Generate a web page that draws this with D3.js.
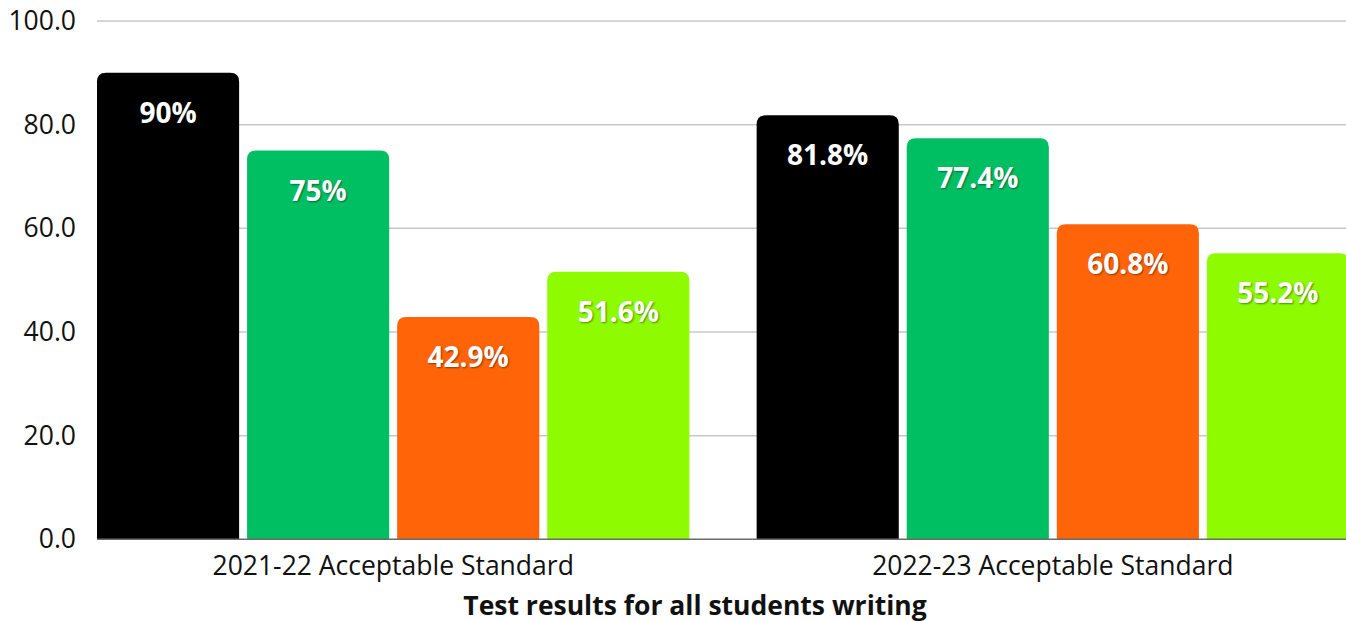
<!DOCTYPE html>
<html>
<head>
<meta charset="utf-8">
<script src="https://cdn.jsdelivr.net/npm/d3@7"></script>
<style>
  html, body { margin: 0; padding: 0; background: #fff; }
  svg { display: block; font-family: "Open Sans", "Noto Sans", sans-serif; }
  .bar-label { text-shadow: 1px 1px 2px rgba(0,0,0,0.45); }
</style>
</head>
<body>
<svg id="chart" width="1346" height="621"></svg>
<script>
// Writing test results, share of students at the acceptable standard
const groups = ["2021-22 Acceptable Standard", "2022-23 Acceptable Standard"];
const series = ["s1", "s2", "s3", "s4"];
const values2122 = [90, 75, 42.9, 51.6];
const values2223 = [81.8, 77.4, 60.8, 55.2];
const valueLabels2122 = ["90%", "75%", "42.9%", "51.6%"];
const valueLabels2223 = ["81.8%", "77.4%", "60.8%", "55.2%"];
const yTicks = [0, 20, 40, 60, 80, 100];
const colors = ["#000000", "#00bf63", "#ff6508", "#8ffb00"];
const xTitle = "Test results for all students writing";

const rows = [
  { group: groups[0], values: values2122, labels: valueLabels2122 },
  { group: groups[1], values: values2223, labels: valueLabels2223 }
];

const svg = d3.select("#chart");
const plotLeft = 97, plotRight = 1349, plotTop = 21, plotBottom = 539.3;
const axisFontSize = 26.5;

const y = d3.scaleLinear().domain([0, 100]).range([plotBottom, plotTop]);
const x0 = d3.scaleBand().domain(groups).range([plotLeft, plotRight]).paddingInner(0.102).paddingOuter(0);
const x1 = d3.scaleBand().domain(series).range([0, x0.bandwidth()]).paddingInner(0.053).paddingOuter(0);
const color = d3.scaleOrdinal().domain(series).range(colors);

// Horizontal gridlines
svg.append("g")
  .selectAll("line")
  .data(yTicks.filter(d => d > 0))
  .join("line")
  .attr("x1", plotLeft).attr("x2", 1346)
  .attr("y1", d => y(d)).attr("y2", d => y(d))
  .attr("stroke", "#c8c8c8").attr("stroke-width", 1.5);

// Y axis tick labels
const yAxis = d3.axisLeft(y).tickValues(yTicks).tickFormat(d3.format(".1f")).tickSize(0).tickPadding(21);
svg.append("g")
  .attr("transform", `translate(${plotLeft},0)`)
  .call(yAxis)
  .call(g => g.select(".domain").remove())
  .call(g => g.selectAll("text")
    .attr("font-size", axisFontSize).attr("fill", "#111")
    .attr("font-family", "'Open Sans', sans-serif"));

// Bars with rounded top corners
function topRoundedRect(x, yTop, w, h, r) {
  r = Math.min(r, w / 2, h);
  return `M${x},${yTop + h}V${yTop + r}Q${x},${yTop} ${x + r},${yTop}` +
    `H${x + w - r}Q${x + w},${yTop} ${x + w},${yTop + r}V${yTop + h}Z`;
}

const groupSel = svg.append("g")
  .selectAll("g")
  .data(rows)
  .join("g")
  .attr("transform", d => `translate(${x0(d.group)},0)`);

const cells = groupSel.selectAll("g.cell")
  .data(d => d.values.map((v, i) => ({ key: series[i], value: v, label: d.labels[i] })))
  .join("g").attr("class", "cell");

cells.append("path")
  .attr("d", d => topRoundedRect(x1(d.key), y(d.value), x1.bandwidth(), y(0) - y(d.value), 9))
  .attr("fill", d => color(d.key));

cells.append("text")
  .attr("class", "bar-label")
  .attr("x", d => x1(d.key) + x1.bandwidth() / 2)
  .attr("y", d => y(d.value) + 50)
  .attr("text-anchor", "middle")
  .attr("font-size", 28)
  .attr("font-weight", 700)
  .attr("fill", "#fff")
  .text(d => d.label);

// Baseline
svg.append("line")
  .attr("x1", plotLeft).attr("x2", 1346)
  .attr("y1", y(0)).attr("y2", y(0))
  .attr("stroke", "#6b6b6b").attr("stroke-width", 1.5);

// Category labels
const xAxis = d3.axisBottom(x0).tickSize(0).tickPadding(17);
svg.append("g")
  .attr("transform", `translate(0,${y(0)})`)
  .call(xAxis)
  .call(g => g.select(".domain").remove())
  .call(g => g.selectAll("text")
    .attr("font-size", axisFontSize).attr("fill", "#111")
    .attr("font-family", "'Open Sans', sans-serif"));

// Axis title
svg.append("text")
  .attr("x", 695).attr("y", 615)
  .attr("text-anchor", "middle")
  .attr("font-size", axisFontSize).attr("font-weight", 700).attr("fill", "#111")
  .text(xTitle);
</script>
</body>
</html>
